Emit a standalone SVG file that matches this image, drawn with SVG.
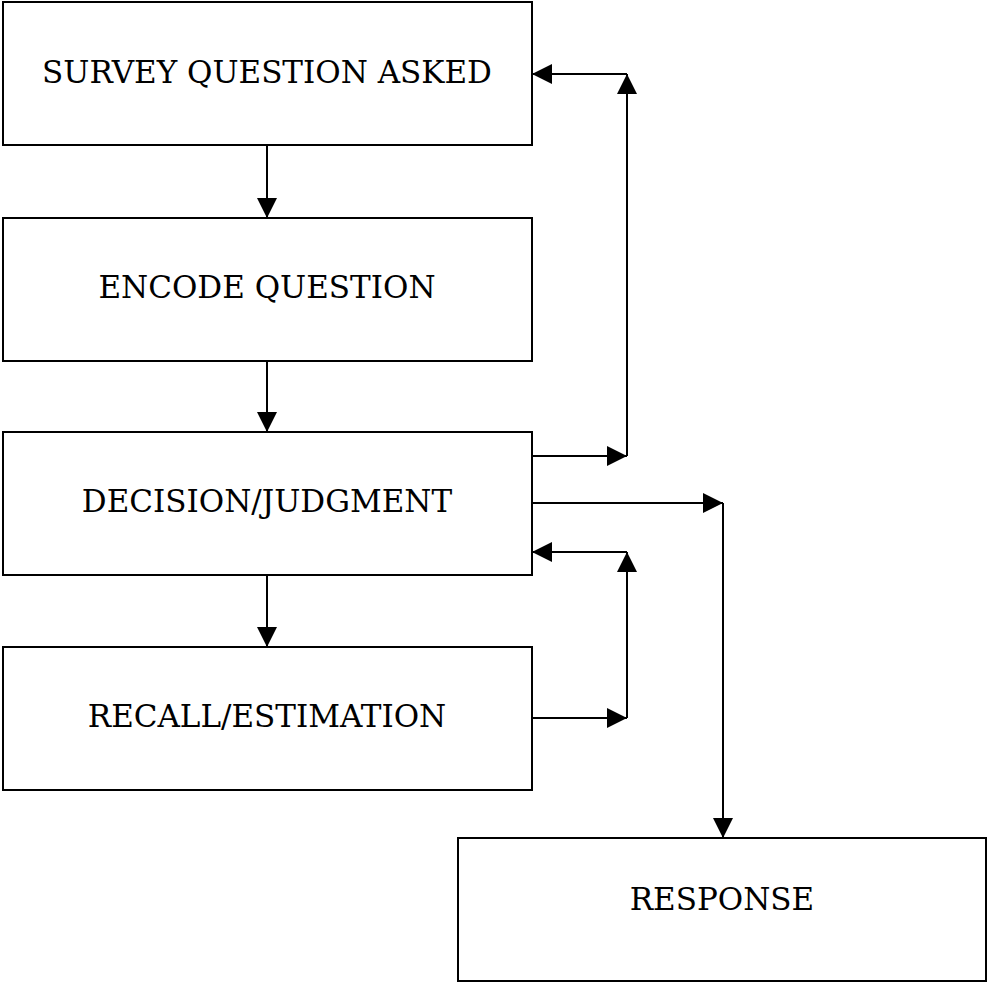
<svg xmlns="http://www.w3.org/2000/svg" width="989" height="982" viewBox="0 0 989 982">
  <style>
    .box { fill: #ffffff; stroke: #000000; stroke-width: 2; }
    .label { font-family: "DejaVu Serif", "Liberation Serif", serif; font-size: 31px; fill: #000000; text-anchor: middle; }
    .link { fill: none; stroke: #000000; stroke-width: 2; marker-end: url(#head); }
  </style>
  <defs>
    <marker id="head" markerUnits="userSpaceOnUse" markerWidth="20" markerHeight="20" refX="20" refY="10" orient="auto">
      <path d="M0,0 L20,10 L0,20 Z" fill="#000000"/>
    </marker>
  </defs>
  <rect x="0" y="0" width="989" height="982" fill="#ffffff"/>

  <g id="survey-question-asked">
    <rect class="box" x="3" y="2" width="529" height="143"/>
    <text class="label" x="267" y="83">SURVEY QUESTION ASKED</text>
  </g>
  <g id="encode-question">
    <rect class="box" x="3" y="218" width="529" height="143"/>
    <text class="label" x="267" y="298">ENCODE QUESTION</text>
  </g>
  <g id="decision-judgment">
    <rect class="box" x="3" y="432" width="529" height="143"/>
    <text class="label" x="267" y="512">DECISION/JUDGMENT</text>
  </g>
  <g id="recall-estimation">
    <rect class="box" x="3" y="647" width="529" height="143"/>
    <text class="label" x="267" y="727">RECALL/ESTIMATION</text>
  </g>
  <g id="response">
    <rect class="box" x="458" y="838" width="528" height="143"/>
    <text class="label" x="722" y="910">RESPONSE</text>
  </g>

  <g id="connectors">
    <line class="link" x1="267" y1="145" x2="267" y2="218"/>
    <line class="link" x1="267" y1="361" x2="267" y2="432"/>
    <line class="link" x1="267" y1="575" x2="267" y2="647"/>
    <!-- feedback loop from decision back to the question -->
    <line class="link" x1="532" y1="456" x2="627" y2="456"/>
    <line class="link" x1="627" y1="456" x2="627" y2="74"/>
    <line class="link" x1="627" y1="74" x2="532" y2="74"/>
    <!-- decision to response -->
    <line class="link" x1="532" y1="503" x2="723" y2="503"/>
    <line class="link" x1="723" y1="503" x2="723" y2="838"/>
    <!-- recall back to decision -->
    <line class="link" x1="532" y1="718" x2="627" y2="718"/>
    <line class="link" x1="627" y1="718" x2="627" y2="552"/>
    <line class="link" x1="627" y1="552" x2="532" y2="552"/>
  </g>
</svg>
